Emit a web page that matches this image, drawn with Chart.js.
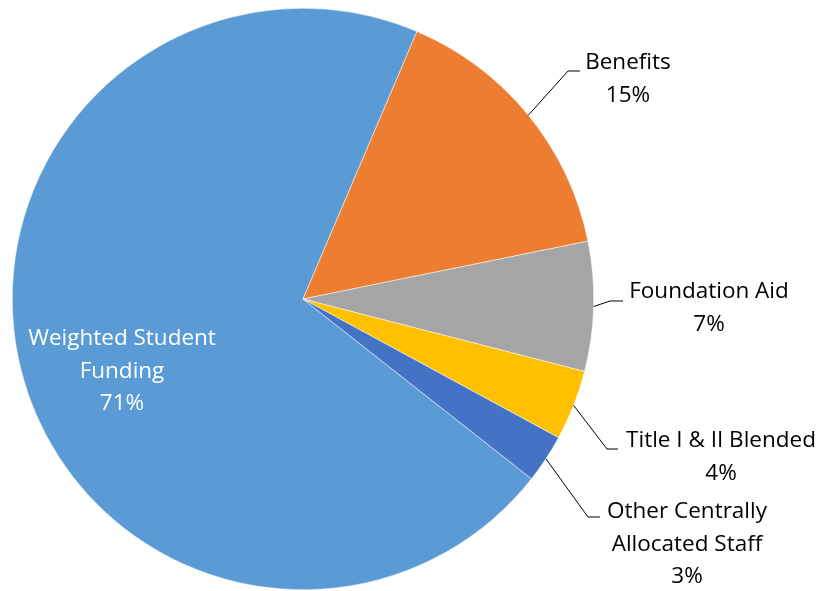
<!DOCTYPE html>
<html>
<head>
<meta charset="utf-8">
<script src="https://cdn.jsdelivr.net/npm/chart.js@4"></script>
<style>
  body { margin: 0; background: #fff; }
  #wrap { width: 823px; height: 591px; position: relative; }
</style>
</head>
<body>
<div id="wrap"><canvas id="pie"></canvas></div>
<script>
// data
const categories = ["Weighted Student Funding", "Benefits", "Foundation Aid", "Title I & II Blended", "Other Centrally Allocated Staff"]
const shares = [70.8, 15.4, 7.2, 3.9, 2.7]
const colors = ["#5B9BD5", "#ED7D31", "#A5A5A5", "#FFC000", "#4472C4"]

// label layout (line breaks, where the text sits, leader elbows)
const labelLines = [
  ["Weighted Student", "Funding"],
  ["Benefits"],
  ["Foundation Aid"],
  ["Title I & II Blended"],
  ["Other Centrally", "Allocated Staff"]
]
const labelSpots = [
  { cx: 122, cy: 339, color: "#fff" },
  { cx: 628, cy: 63, elbow: [568, 71], end: [580, 71] },
  { cx: 709, cy: 292, elbow: [610, 301], end: [623, 301] },
  { cx: 721, cy: 441, elbow: [607, 449], end: [618, 449] },
  { cx: 687, cy: 512, elbow: [588, 517], end: [600, 517] }
]
const FONT = "22.5px 'Open Sans', 'Noto Sans', sans-serif"
const LINE_H = 32.5

const pieLabels = {
  id: "pieLabels",
  afterDraw(chart) {
    const c = chart.ctx
    const meta = chart.getDatasetMeta(0)
    const total = shares.reduce((a, b) => a + b, 0)
    c.save()
    c.font = FONT
    c.textAlign = "center"
    c.textBaseline = "middle"
    meta.data.forEach((arc, i) => {
      const p = arc.getProps(["x", "y", "startAngle", "endAngle", "outerRadius"], true)
      const spot = labelSpots[i]
      if (spot.elbow) {
        const mid = (p.startAngle + p.endAngle) / 2
        const sx = p.x + Math.cos(mid) * p.outerRadius
        const sy = p.y + Math.sin(mid) * p.outerRadius
        c.strokeStyle = "#000"
        c.lineWidth = 1
        c.beginPath()
        c.moveTo(sx, sy)
        c.lineTo(spot.elbow[0], spot.elbow[1])
        c.lineTo(spot.end[0], spot.end[1])
        c.stroke()
      }
      const lines = labelLines[i].concat([Math.round(shares[i] / total * 100) + "%"])
      c.fillStyle = spot.color || "#000"
      lines.forEach((t, k) => c.fillText(t, spot.cx, spot.cy + k * LINE_H))
    })
    c.restore()
  }
}

new Chart(document.getElementById("pie"), {
  type: "pie",
  data: {
    labels: categories,
    datasets: [{
      data: shares,
      backgroundColor: colors,
      borderColor: "#fff",
      borderWidth: 0.5
    }]
  },
  options: {
    responsive: true,
    maintainAspectRatio: false,
    animation: false,
    rotation: 128.2,
    layout: { padding: { top: 8, bottom: 1, left: 12, right: 229 } },
    plugins: {
      legend: { display: false },
      tooltip: { enabled: false }
    }
  },
  plugins: [pieLabels]
})
</script>
</body>
</html>
